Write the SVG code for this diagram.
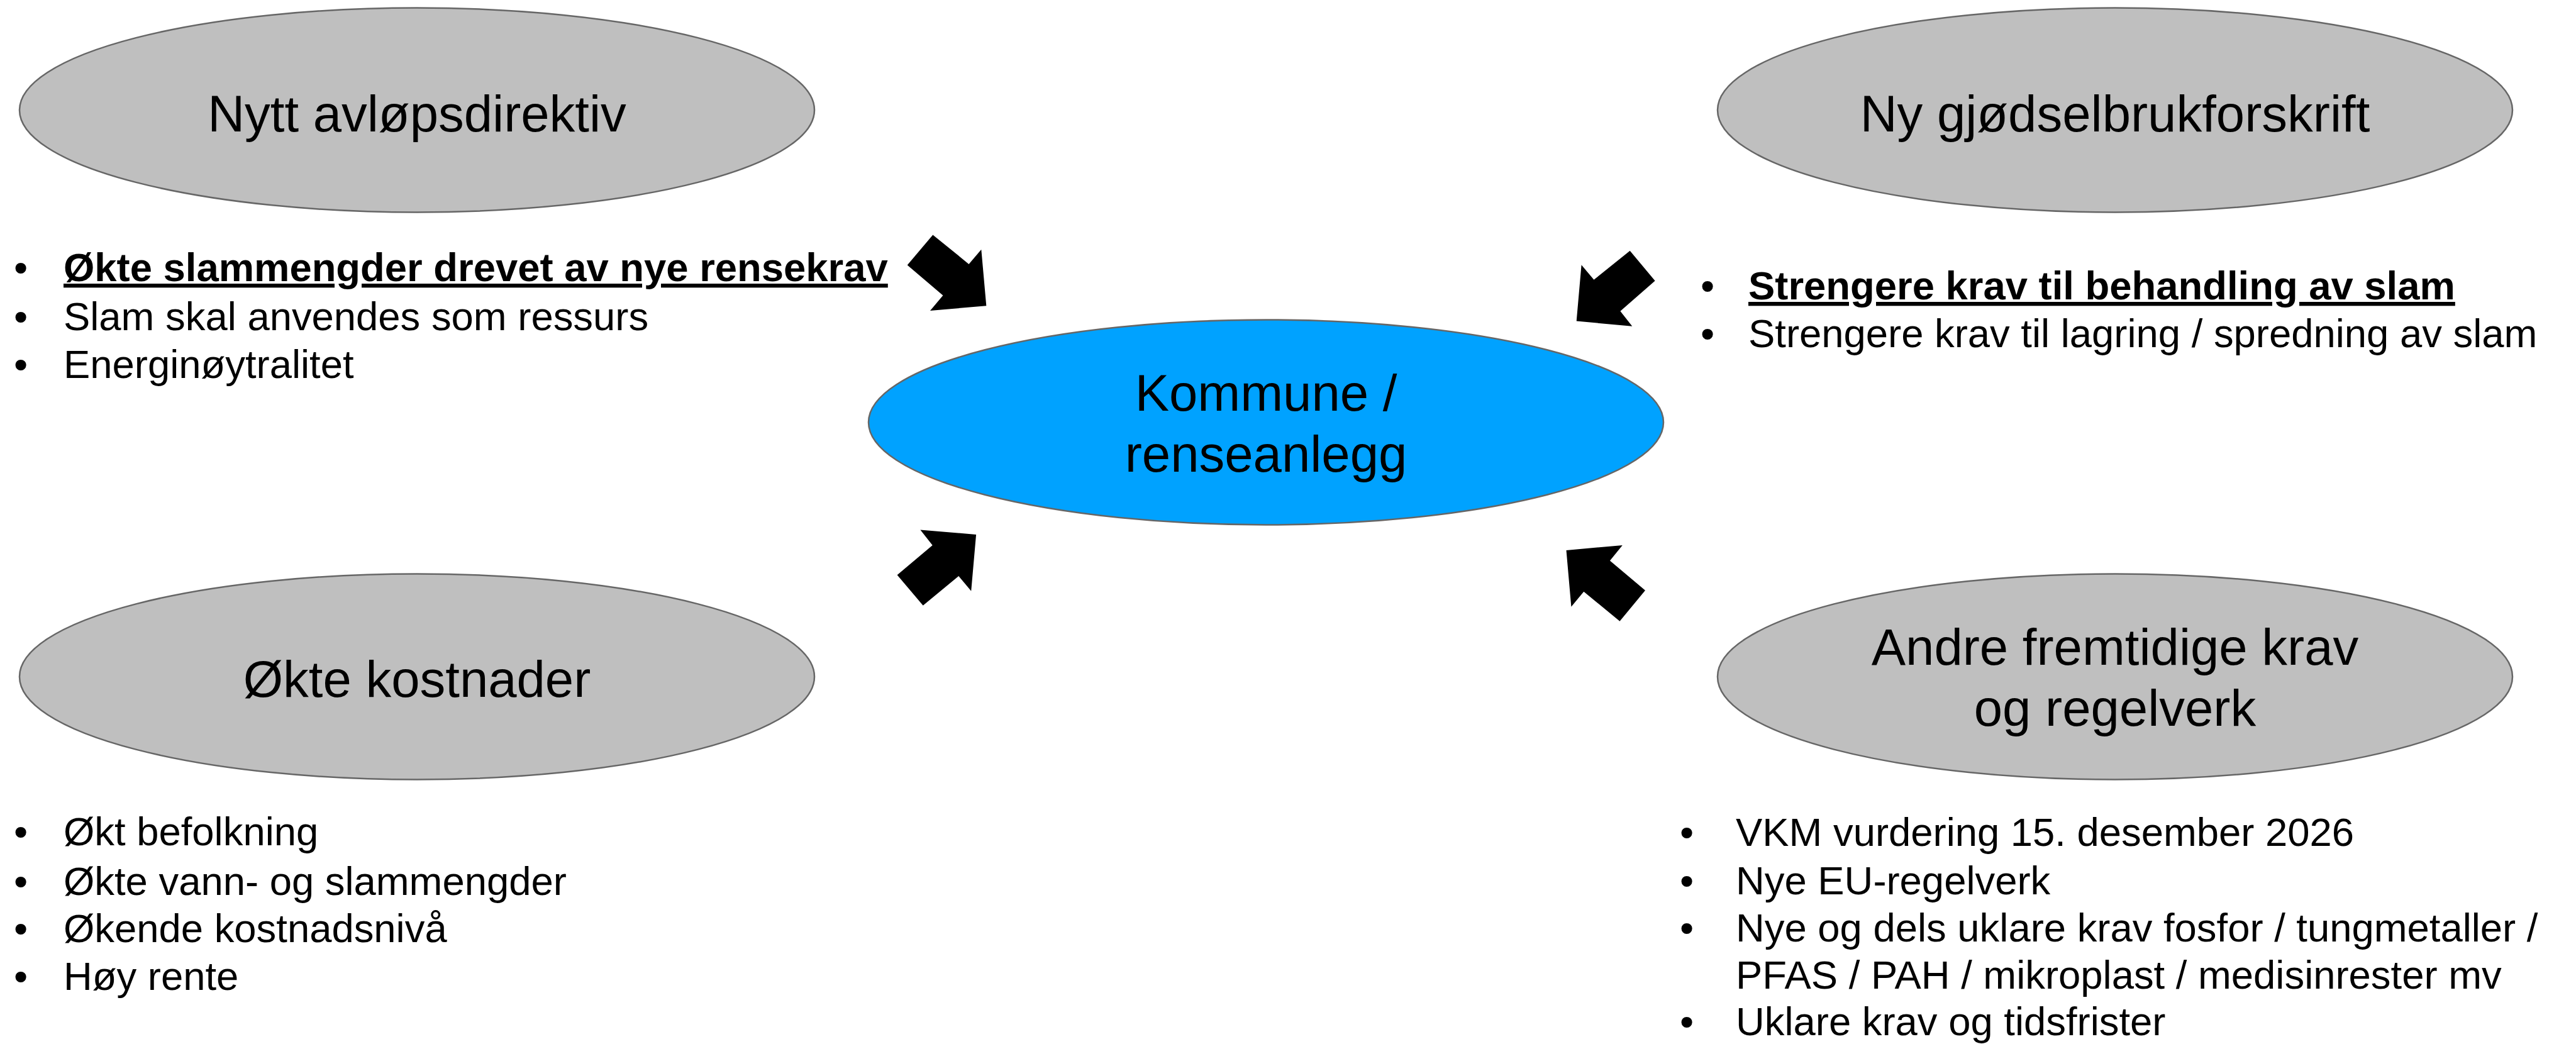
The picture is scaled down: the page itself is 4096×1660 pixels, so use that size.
<svg xmlns="http://www.w3.org/2000/svg" width="4096" height="1660" viewBox="0 0 4096 1660">
<style>
.grey{fill:#BFBFBF;stroke:#666666;stroke-width:2.5}
.blue{fill:#00A2FF;stroke:#666666;stroke-width:2.5}
.title{font-family:"Liberation Sans",Arial,sans-serif;font-size:81.5px;fill:#000;text-anchor:middle}
.b{font-family:"Liberation Sans",Arial,sans-serif;font-size:63.4px;fill:#000}
.bold{font-weight:bold;text-decoration:underline}
.arrow{fill:#000;stroke:none}
</style>
<rect width="4096" height="1660" fill="#FFFFFF"/>
<g id="node-avlopsdirektiv">
<ellipse class="grey" cx="663" cy="175" rx="632" ry="162.5"/>
<text class="title" x="663" y="209">Nytt avløpsdirektiv</text>
</g>
<g id="node-gjodsel">
<ellipse class="grey" cx="3363" cy="175" rx="632" ry="162.5"/>
<text class="title" x="3363" y="209">Ny gjødselbrukforskrift</text>
</g>
<g id="node-kostnader">
<ellipse class="grey" cx="663" cy="1076" rx="632" ry="163.5"/>
<text class="title" x="663" y="1108">Økte kostnader</text>
</g>
<g id="node-andre">
<ellipse class="grey" cx="3363" cy="1076" rx="632" ry="163.5"/>
<text class="title" x="3363" y="1057">Andre fremtidige krav</text>
<text class="title" x="3363" y="1154">og regelverk</text>
</g>
<g id="node-kommune">
<ellipse class="blue" cx="2013" cy="671.5" rx="632" ry="163"/>
<text class="title" x="2013" y="653">Kommune /</text>
<text class="title" x="2013" y="750">renseanlegg</text>
</g>
<g id="bullets-avlopsdirektiv">
<text class="b" x="22" y="447">•</text><text class="b bold" x="101" y="447">Økte slammengder drevet av nye rensekrav</text>
<text class="b" x="22" y="524.5">•</text><text class="b" x="101" y="524.5">Slam skal anvendes som ressurs</text>
<text class="b" x="22" y="601">•</text><text class="b" x="101" y="601">Energinøytralitet</text>
</g>
<g id="bullets-gjodsel">
<text class="b" x="2704" y="476">•</text><text class="b bold" x="2780" y="476">Strengere krav til behandling av slam</text>
<text class="b" x="2704" y="552">•</text><text class="b" x="2780" y="552">Strengere krav til lagring / spredning av slam</text>
</g>
<g id="bullets-kostnader">
<text class="b" x="22" y="1344">•</text><text class="b" x="101" y="1344">Økt befolkning</text>
<text class="b" x="22" y="1422.5">•</text><text class="b" x="101" y="1422.5">Økte vann- og slammengder</text>
<text class="b" x="22" y="1498">•</text><text class="b" x="101" y="1498">Økende kostnadsnivå</text>
<text class="b" x="22" y="1574">•</text><text class="b" x="101" y="1574">Høy rente</text>
</g>
<g id="bullets-andre">
<text class="b" x="2671" y="1345">•</text><text class="b" x="2760" y="1345">VKM vurdering 15. desember 2026</text>
<text class="b" x="2671" y="1422">•</text><text class="b" x="2760" y="1422">Nye EU-regelverk</text>
<text class="b" x="2671" y="1497">•</text><text class="b" x="2760" y="1497">Nye og dels uklare krav fosfor / tungmetaller /</text>
<text class="b" x="2760" y="1572">PFAS / PAH / mikroplast / medisinrester mv</text>
<text class="b" x="2671" y="1646">•</text><text class="b" x="2760" y="1646">Uklare krav og tidsfrister</text>
</g>
<g id="connectors">
<polygon class="arrow" points="1483.3,373.4 1442.7,421.6 1499.4,469.8 1479,494.1 1568.3,486.2 1560.3,396.7 1540.5,419.9"/>
<polygon class="arrow" points="2591.7,398.7 2631.6,446.5 2576.4,494.7 2595.3,518.8 2506.7,510.6 2514.6,421.3 2534.4,444.8"/>
<polygon class="arrow" points="1463.4,842.4 1552.1,850 1544.2,939.8 1524.3,916 1467.7,962.7 1426.6,914.3 1482.7,867"/>
<polygon class="arrow" points="2579.8,867 2490.5,874.9 2498.4,964.8 2518.3,940.7 2575.5,987.7 2616,938.7 2559.9,891.4"/>
</g>
</svg>
